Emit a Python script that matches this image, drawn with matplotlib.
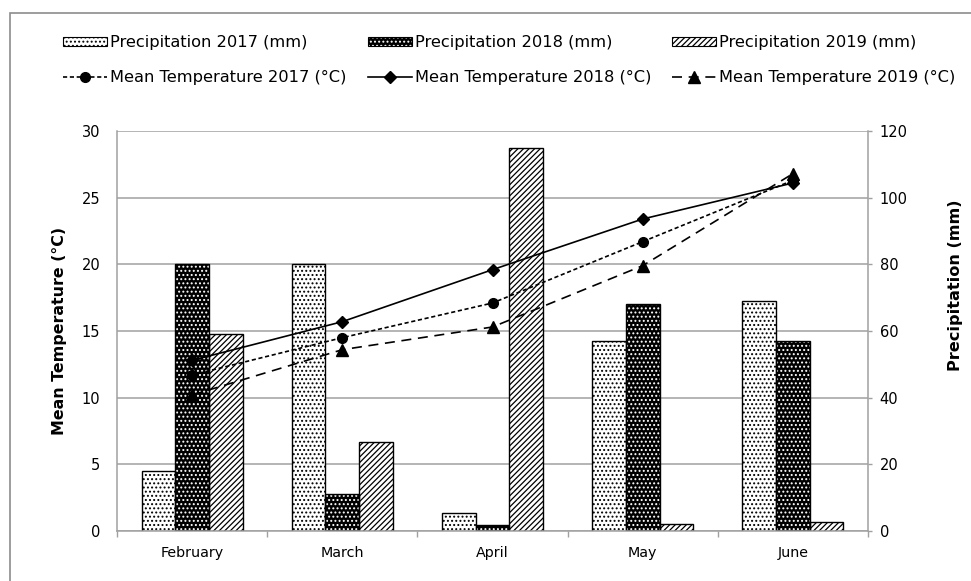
import matplotlib
matplotlib.use("Agg")
import matplotlib.pyplot as plt
import numpy as np
from matplotlib.patches import Patch, Rectangle
from matplotlib.legend_handler import HandlerTuple

months = ['February', 'March', 'April', 'May', 'June']
precip_2017 = [18.0, 80.0, 5.3, 57.0, 69.0]
precip_2018 = [80.0, 11.0, 1.7, 68.0, 57.0]
precip_2019 = [59.0, 26.7, 115.0, 2.0, 2.6]
temp_2017 = [11.7, 14.5, 17.1, 21.7, 26.3]
temp_2018 = [12.8, 15.7, 19.6, 23.4, 26.1]
temp_2019 = [10.2, 13.6, 15.3, 19.9, 26.8]
temp_ticks = [0, 5, 10, 15, 20, 25, 30]
precip_ticks = [0, 20, 40, 60, 80, 100, 120]

plt.rcParams['font.family'] = ['DejaVu Sans']
plt.rcParams['hatch.linewidth'] = 0.9
GRID = '#a0a0a0'
FS = 10.5

fig = plt.figure(figsize=(9.71, 5.81), dpi=100)
ax = fig.add_axes([117/971, 1-531/581, 751/971, 400/581])
ax2 = ax.twinx()
ax.set_zorder(ax2.get_zorder() + 1)
ax.patch.set_visible(False)

x = np.arange(len(months))
w = 0.224

styles = [
    dict(fc='white', hc='black', hatch='....'),
    dict(fc='black', hc='white', hatch='....'),
    dict(fc='white', hc='black', hatch='//////'),
]
series = [precip_2017, precip_2018, precip_2019]
labels_p = ['Precipitation 2017 (mm)', 'Precipitation 2018 (mm)', 'Precipitation 2019 (mm)']
handles_p = []
for i, (vals, st) in enumerate(zip(series, styles)):
    pos = x + (i - 1) * w
    ax2.bar(pos, vals, w, color=st['fc'], edgecolor=st['hc'], hatch=st['hatch'], linewidth=0, zorder=2)
    ax2.bar(pos, vals, w, facecolor='none', edgecolor='black', linewidth=1.0, zorder=3)
    h1 = Patch(facecolor=st['fc'], edgecolor=st['hc'], hatch=st['hatch'], linewidth=0)
    h2 = Patch(facecolor='none', edgecolor='black', linewidth=0.8)
    handles_p.append((h1, h2))

line_specs = [
    (temp_2017, 'o', (0, (2.5, 1.6)), 7, 'Mean Temperature 2017 (°C)'),
    (temp_2018, 'D', '-', 6.5, 'Mean Temperature 2018 (°C)'),
    (temp_2019, '^', (0, (6, 4)), 8, 'Mean Temperature 2019 (°C)'),
]
handles_t = []
for vals, mk, ls, ms, lab in line_specs:
    ln, = ax.plot(x, vals, color='black', linestyle=ls, linewidth=1.2,
                  marker=mk, markersize=ms, markerfacecolor='black', markeredgecolor='black', label=lab)
    handles_t.append(ln)

ax.set_xlim(-0.5, len(months) - 0.5)
ax.set_ylim(0, 30)
ax2.set_ylim(0, 120)
ax.set_yticks(temp_ticks)
ax2.set_yticks(precip_ticks)

ax2.yaxis.grid(True, color=GRID, linewidth=1.1)
ax2.set_axisbelow(True)

ax.set_xticks(x)
ax.set_xticklabels(months, fontsize=10.3)
ax.set_xticks(np.arange(-0.5, len(months)), minor=True)
ax.tick_params(axis='x', which='major', length=0, pad=11)
ax.tick_params(axis='x', which='minor', length=4.5, color=GRID, width=1)
ax.tick_params(axis='y', length=0, pad=12, labelsize=FS)
ax2.tick_params(axis='y', length=3, color=GRID, width=1, pad=5.5, labelsize=FS)

for s in ['top', 'right']:
    ax.spines[s].set_visible(False)
for s in ['top', 'left', 'bottom']:
    ax2.spines[s].set_visible(False)
ax.spines['left'].set_color(GRID)
ax.spines['bottom'].set_color(GRID)
ax2.spines['right'].set_color(GRID)
for sp in [ax.spines['left'], ax.spines['bottom'], ax2.spines['right']]:
    sp.set_linewidth(1.1)

ax.set_ylabel('Mean Temperature (°C)', fontsize=11.4, fontweight='bold')
ax.yaxis.set_label_coords(-0.066, 0.5)
ax2.set_ylabel('Precipitation (mm)', fontsize=11.6, fontweight='bold', rotation=90)
ax2.yaxis.set_label_coords(1.107, 0.615)

handles = [handles_p[0], handles_t[0], handles_p[1], handles_t[1], handles_p[2], handles_t[2]]
labels = [labels_p[0], line_specs[0][4], labels_p[1], line_specs[1][4], labels_p[2], line_specs[2][4]]
leg = fig.legend(handles, labels, ncol=3, loc='upper left',
                 bbox_to_anchor=(63/971, 1-35/581), frameon=False, fontsize=11.7,
                 handlelength=2.7, handleheight=0.45, handletextpad=0.2,
                 columnspacing=1.3, labelspacing=1.22, borderpad=0, borderaxespad=0,
                 handler_map={tuple: HandlerTuple(ndivide=1, pad=0)})

fig.patches.append(Rectangle((10/971, -1), 2, 1 + 1 - 13/581, transform=fig.transFigure,
                             fill=False, edgecolor='#8c8c8c', linewidth=1.2))

fig.savefig('out.png', dpi=100)
